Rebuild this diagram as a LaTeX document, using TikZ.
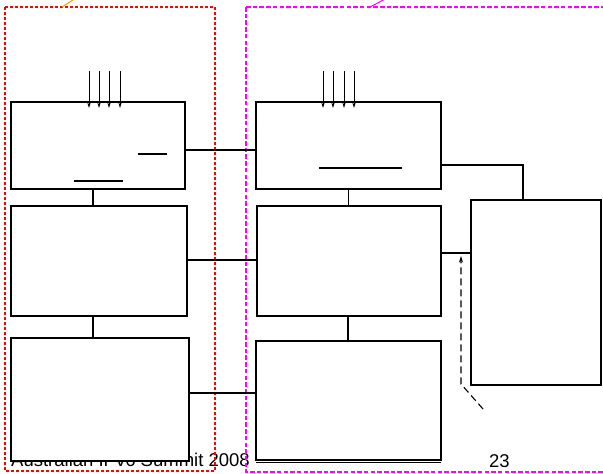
\documentclass[tikz,border=0pt]{standalone}
\usepackage{fontspec}
\setmainfont{Liberation Sans}
\usetikzlibrary{arrows.meta}
\definecolor{redbox}{RGB}{255,0,0}
\definecolor{magbox}{RGB}{255,0,255}
\definecolor{orangeln}{RGB}{255,150,0}
\tikzset{
  blk/.style={draw=black, line width=1.8pt, inner sep=0pt, outer sep=0pt, fill=white},
  wire/.style={draw=black, line width=1.4pt},
  inarrow/.style={draw=black, line width=0.9pt, -{Stealth[length=5.5pt,width=3.4pt]}},
  dashwire/.style={draw=black, line width=1.1pt, dash pattern=on 7pt off 4pt},
  redframe/.style={draw=redbox, line width=2.2pt, dash pattern=on 3pt off 2pt},
  magframe/.style={draw=magbox, line width=2.2pt, dash pattern=on 4.5pt off 2.2pt},
  footer/.style={font=\fontsize{18.5}{20}\selectfont, inner sep=0pt, anchor=base west}
}
\begin{document}
\begin{tikzpicture}[x=1pt, y=-1pt]
\useasboundingbox (0,0) rectangle (603,474);
% footer (drawn first: the blocks cover part of it)
\node[footer] (ft) at (11,466) {Australian IPv6 Summit 2008};
\node[footer] (pg) at (489,467) {23};
% frames
\draw[redframe] (5,7) rectangle (215,471);
\draw[magframe] (246,7) -- (610,7);
\draw[magframe] (246,7) -- (246,472) -- (610,472);
\draw[orangeln, line width=1pt] (62,7) -- (76,-2);
\draw[magbox, line width=1pt] (370,7) -- (387,-2);
% blocks
\node[blk, minimum width=174pt, minimum height=87pt] (A) at (98,145.5) {};
\node[blk, minimum width=176pt, minimum height=110pt] (B) at (99,261) {};
\node[blk, minimum width=178pt, minimum height=123pt] (C) at (100,399.5) {};
\node[blk, minimum width=185pt, minimum height=87pt] (D) at (348.5,145.5) {};
\node[blk, minimum width=184pt, minimum height=110pt] (E) at (349,261) {};
\node[blk, minimum width=185pt, minimum height=119pt] (G) at (348.5,400.5) {};
\node[blk, minimum width=130pt, minimum height=185pt] (F) at (536,292.5) {};
% second bottom line of G
\draw[black, line width=1.3pt] ([yshift=-2.4pt]G.south west) -- ([yshift=-2.4pt]G.south east);
% inner bars
\draw[black, line width=1.3pt] (138,154) -- (167,154);
\draw[black, line width=1.3pt] (74,181) -- (123,181);
\draw[black, line width=1.3pt] (319,168) -- (402,168);
% input arrows
\foreach \o in {-9,1,11,22}
  \draw[inarrow] ([xshift=\o pt, yshift=31pt]A.north) -- ([xshift=\o pt, yshift=-6pt]A.north);
\foreach \o in {-25.5,-15.5,-4.5,5.5}
  \draw[inarrow] ([xshift=\o pt, yshift=31pt]D.north) -- ([xshift=\o pt, yshift=-6pt]D.north);
% connectors
\draw[wire] ([xshift=-5pt]A.south) -- ([xshift=-5pt]A.south |- B.north);
\draw[wire] ([xshift=-6pt]B.south) -- ([xshift=-6pt]B.south |- C.north);
\draw[wire] ([yshift=-4.5pt]A.east) -- ([yshift=-4.5pt]A.east -| D.west);
\draw[wire] ([yshift=1pt]B.east) -- ([yshift=1pt]B.east -| E.west);
\draw[wire] ([yshift=6.5pt]C.east) -- ([yshift=6.5pt]C.east -| G.west);
\draw[wire] (D.south) -- (D.south |- E.north);
\draw[wire] ([xshift=-1pt]E.south) -- ([xshift=-1pt]E.south |- G.north);
\draw[wire] ([yshift=-19.5pt]D.east) -| ([xshift=-13pt]F.north);
\draw[wire] ([yshift=8pt]E.east) -- ([yshift=8pt]E.east -| F.west);
% dashed feedback arrow
\coordinate (d0) at (483,409);
\coordinate (d1) at (461,384);
\coordinate (dt) at (461,256);
\draw[dashwire, -{Stealth[length=6.5pt,width=4pt]}] (d0) -- (d1) -- (dt);
\end{tikzpicture}
\end{document}
